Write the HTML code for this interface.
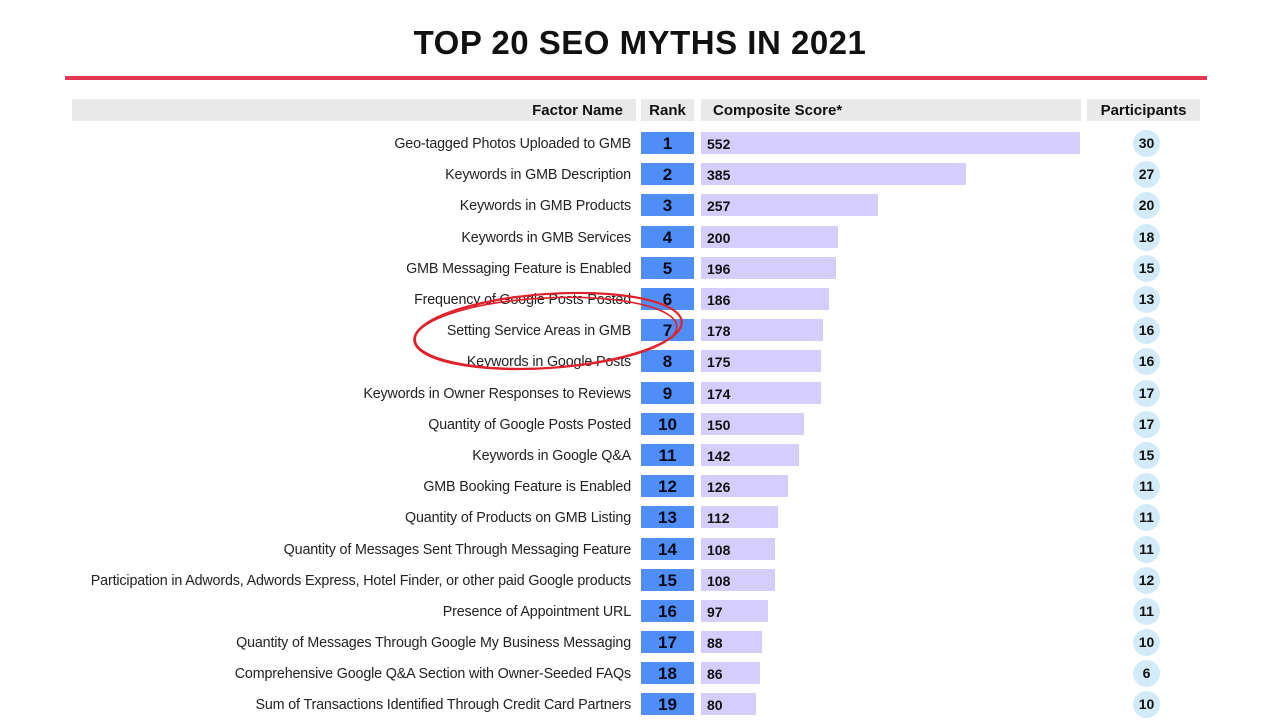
<!DOCTYPE html>
<html><head><meta charset="utf-8"><style>
body{margin:0;width:1280px;height:720px;background:#fff;position:relative;overflow:hidden;font-family:"Liberation Sans",sans-serif;}
.t{position:absolute;top:24px;left:0;width:1280px;text-align:center;font-weight:bold;font-size:33px;color:#111;letter-spacing:0.5px}
.rl{position:absolute;left:65px;top:76px;width:1142px;height:4px;background:#e03a52}
.h{position:absolute;top:99px;height:22px;background:#e9e9e9;font-weight:bold;font-size:15px;color:#111;line-height:24px}
.r{position:absolute;left:0;width:1280px;height:22px}
.n{position:absolute;right:649px;top:0;line-height:24px;font-size:14.3px;color:#222;letter-spacing:-0.15px;white-space:nowrap}
.k{position:absolute;left:641px;width:53px;top:0;height:22px;background:#4f8ef6;text-align:center;font-weight:bold;font-size:17px;line-height:23px;color:#0a0a1a}
.s{position:absolute;left:701px;top:0;height:22px;background:#d5cdfb;font-weight:bold;font-size:14px;line-height:24px;color:#111;padding-left:6px;box-sizing:border-box}
.p{position:absolute;left:1133px;top:-2px;width:27px;height:27px;border-radius:50%;background:#d3ebf8;text-align:center;line-height:27px;font-weight:bold;font-size:14px;color:#111}
</style></head><body>
<div class="t">TOP 20 SEO MYTHS IN 2021</div>
<div class="rl"></div>
<div class="h" style="left:72px;width:564px;text-align:right;padding-right:13px;box-sizing:border-box">Factor Name</div>
<div class="h" style="left:641px;width:53px;text-align:center">Rank</div>
<div class="h" style="left:701px;width:380px;padding-left:12px;box-sizing:border-box">Composite Score*</div>
<div class="h" style="left:1087px;width:113px;text-align:center">Participants</div>

<div class="r" style="top:132px"><span class="n">Geo-tagged Photos Uploaded to GMB</span><div class="k">1</div><div class="s" style="width:379px">552</div><div class="p">30</div></div>
<div class="r" style="top:163px"><span class="n">Keywords in GMB Description</span><div class="k">2</div><div class="s" style="width:265px">385</div><div class="p">27</div></div>
<div class="r" style="top:194px"><span class="n">Keywords in GMB Products</span><div class="k">3</div><div class="s" style="width:177px">257</div><div class="p">20</div></div>
<div class="r" style="top:226px"><span class="n">Keywords in GMB Services</span><div class="k">4</div><div class="s" style="width:137px">200</div><div class="p">18</div></div>
<div class="r" style="top:257px"><span class="n">GMB Messaging Feature is Enabled</span><div class="k">5</div><div class="s" style="width:135px">196</div><div class="p">15</div></div>
<div class="r" style="top:288px"><span class="n">Frequency of Google Posts Posted</span><div class="k">6</div><div class="s" style="width:128px">186</div><div class="p">13</div></div>
<div class="r" style="top:319px"><span class="n">Setting Service Areas in GMB</span><div class="k">7</div><div class="s" style="width:122px">178</div><div class="p">16</div></div>
<div class="r" style="top:350px"><span class="n">Keywords in Google Posts</span><div class="k">8</div><div class="s" style="width:120px">175</div><div class="p">16</div></div>
<div class="r" style="top:382px"><span class="n">Keywords in Owner Responses to Reviews</span><div class="k">9</div><div class="s" style="width:120px">174</div><div class="p">17</div></div>
<div class="r" style="top:413px"><span class="n">Quantity of Google Posts Posted</span><div class="k">10</div><div class="s" style="width:103px">150</div><div class="p">17</div></div>
<div class="r" style="top:444px"><span class="n">Keywords in Google Q&amp;A</span><div class="k">11</div><div class="s" style="width:98px">142</div><div class="p">15</div></div>
<div class="r" style="top:475px"><span class="n">GMB Booking Feature is Enabled</span><div class="k">12</div><div class="s" style="width:87px">126</div><div class="p">11</div></div>
<div class="r" style="top:506px"><span class="n">Quantity of Products on GMB Listing</span><div class="k">13</div><div class="s" style="width:77px">112</div><div class="p">11</div></div>
<div class="r" style="top:538px"><span class="n">Quantity of Messages Sent Through Messaging Feature</span><div class="k">14</div><div class="s" style="width:74px">108</div><div class="p">11</div></div>
<div class="r" style="top:569px"><span class="n">Participation in Adwords, Adwords Express, Hotel Finder, or other paid Google products</span><div class="k">15</div><div class="s" style="width:74px">108</div><div class="p">12</div></div>
<div class="r" style="top:600px"><span class="n">Presence of Appointment URL</span><div class="k">16</div><div class="s" style="width:67px">97</div><div class="p">11</div></div>
<div class="r" style="top:631px"><span class="n">Quantity of Messages Through Google My Business Messaging</span><div class="k">17</div><div class="s" style="width:61px">88</div><div class="p">10</div></div>
<div class="r" style="top:662px"><span class="n">Comprehensive Google Q&amp;A Section with Owner-Seeded FAQs</span><div class="k">18</div><div class="s" style="width:59px">86</div><div class="p">6</div></div>
<div class="r" style="top:693px"><span class="n">Sum of Transactions Identified Through Credit Card Partners</span><div class="k">19</div><div class="s" style="width:55px">80</div><div class="p">10</div></div>

<svg style="position:absolute;left:0;top:0" width="1280" height="720">
<ellipse cx="548" cy="331" rx="134" ry="37" transform="rotate(-4 548 331)" fill="none" stroke="#e0202a" stroke-width="2.2"/>
<ellipse cx="546" cy="333" rx="131" ry="35" transform="rotate(-3 546 333)" fill="none" stroke="#e0202a" stroke-width="1.6"/>
</svg>
</body></html>
